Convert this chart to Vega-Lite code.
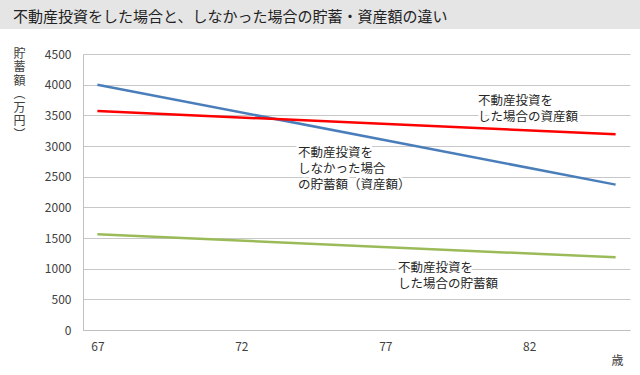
{
  "$schema": "https://vega.github.io/schema/vega-lite/v6.json",
  "padding": 0,
  "spacing": 0,
  "background": "white",
  "config": {"font": "Noto Sans CJK JP", "view": {"stroke": null}},
  "datasets": {
    "lines": [
      {"age": 67, "value": 4000, "series": "しなかった場合"},
      {"age": 85, "value": 2370, "series": "しなかった場合"},
      {"age": 67, "value": 3570, "series": "資産額"},
      {"age": 85, "value": 3190, "series": "資産額"},
      {"age": 67, "value": 1560, "series": "貯蓄額"},
      {"age": 85, "value": 1185, "series": "貯蓄額"}
    ],
    "notes": [
      {"age": 80.22, "value": 3737, "label": "不動産投資を\nした場合の資産額"},
      {"age": 73.97, "value": 2886, "label": "不動産投資を\nしなかった場合\nの貯蓄額（資産額）"},
      {"age": 77.44, "value": 1019, "label": "不動産投資を\nした場合の貯蓄額"}
    ]
  },
  "vconcat": [
    {
      "width": 640,
      "height": 29,
      "view": {"fill": "#e5e5e5", "stroke": null},
      "title": {
        "text": "不動産投資をした場合と、しなかった場合の貯蓄・資産額の違い",
        "anchor": "start",
        "frame": "group",
        "orient": "top",
        "offset": -15.5,
        "baseline": "middle",
        "dx": 13,
        "dy": 16.5,
        "fontSize": 15,
        "fontWeight": "normal",
        "color": "#222222"
      },
      "data": {"values": [{}]},
      "mark": {"type": "text"},
      "encoding": {"text": {"value": ""}}
    },
    {
      "width": 640,
      "height": 346,
      "encoding": {
        "x": {
          "field": "age",
          "type": "quantitative",
          "scale": {"domain": [66.5, 85.5], "range": [83, 630], "nice": false, "zero": false},
          "axis": {
            "values": [67, 72, 77, 82],
            "grid": false,
            "ticks": false,
            "domainColor": "#c0c0c0",
            "labelPadding": 11,
            "labelFontSize": 12,
            "labelColor": "#404040",
            "labelFlush": false,
            "offset": -45,
            "title": "歳",
            "titleX": 617,
            "titleY": 30,
            "titleAlign": "center",
            "titleBaseline": "middle",
            "titleFontSize": 12,
            "titleFontWeight": "normal",
            "titleColor": "#404040"
          }
        },
        "y": {
          "field": "value",
          "type": "quantitative",
          "scale": {"domain": [0, 4500], "range": [301, 25], "nice": false},
          "axis": {
            "values": [0, 500, 1000, 1500, 2000, 2500, 3000, 3500, 4000, 4500],
            "format": "d",
            "grid": true,
            "gridColor": "#c8c8c8",
            "ticks": false,
            "domainColor": "#c0c0c0",
            "labelPadding": 12,
            "labelFontSize": 12,
            "labelColor": "#404040",
            "labelFlush": false,
            "labelOverlap": false,
            "offset": -83,
            "title": ["貯", "蓄", "額", "︵", "万", "円", "︶"],
            "titleAngle": 0,
            "titleX": -64,
            "titleY": 19,
            "titleAlign": "center",
            "titleBaseline": "top",
            "titleFontSize": 12,
            "titleFontWeight": "normal",
            "titleLineHeight": 13.5,
            "titleColor": "#404040"
          }
        }
      },
      "layer": [
        {
          "data": {"name": "lines"},
          "mark": {"type": "line", "strokeWidth": 2.5},
          "encoding": {
            "color": {
              "field": "series",
              "type": "nominal",
              "scale": {"domain": ["しなかった場合", "資産額", "貯蓄額"], "range": ["#4a7ebb", "#ff0000", "#9bbb59"]},
              "legend": null
            }
          }
        },
        {
          "data": {"name": "notes"},
          "mark": {"type": "text", "align": "left", "baseline": "middle", "lineBreak": "\n", "fontSize": 12.5, "lineHeight": 16, "stroke": "white", "strokeWidth": 5, "strokeJoin": "round", "fill": "white"},
          "encoding": {"text": {"field": "label"}}
        },
        {
          "data": {"name": "notes"},
          "mark": {"type": "text", "align": "left", "baseline": "middle", "lineBreak": "\n", "fontSize": 12.5, "lineHeight": 16, "color": "#262626"},
          "encoding": {"text": {"field": "label"}}
        }
      ]
    }
  ]
}
